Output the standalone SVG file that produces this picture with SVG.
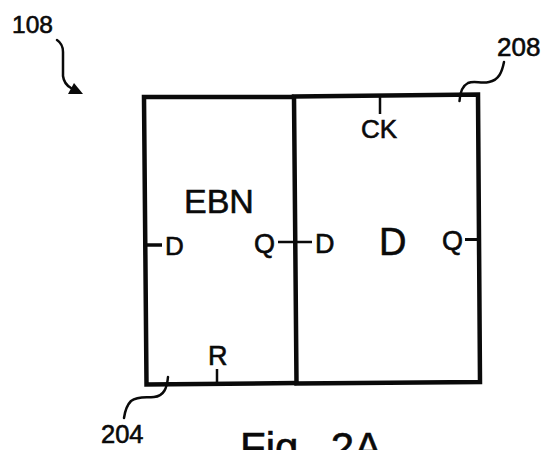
<svg xmlns="http://www.w3.org/2000/svg" width="545" height="450" viewBox="0 0 545 450">
<style>
text{font-family:"Liberation Sans",Arial,sans-serif;fill:#0a0a0a;stroke:#0a0a0a;stroke-width:0.6}
.box{fill:none;stroke:#0a0a0a;stroke-width:4.5;stroke-linejoin:miter}
.tick{fill:none;stroke:#0a0a0a;stroke-width:2.5}
.lead{fill:none;stroke:#0a0a0a;stroke-width:2.5;stroke-linecap:round}
</style>
<rect width="545" height="450" fill="#fff"/>
<g id="node-ebn">
<path class="box" d="M294 97 L144 97 L146.500 384.500 L296.500 383"/>
<text x="184" y="213" font-size="34">EBN</text>
<text x="165" y="255" font-size="26">D</text>
<text x="254" y="253" font-size="27">Q</text>
<text x="208" y="365" font-size="27">R</text>
</g>
<g id="node-d">
<path class="box" d="M294 96.500 L478 94.500 L480 382 L296.500 383.500 Z"/>
<text x="361" y="138" font-size="26">CK</text>
<text x="315" y="253" font-size="27">D</text>
<text x="379" y="255" font-size="38">D</text>
<text x="442" y="250" font-size="27">Q</text>
</g>
<g id="connectors">
<path class="tick" style="stroke-width:3.5" d="M146 245 H162"/>
<path class="tick" d="M278 242 H312"/>
<path class="tick" style="stroke-width:3" d="M465 239.500 H478"/>
<path class="tick" d="M217 369 V383"/>
<path class="tick" d="M380 97 V114"/>
<path class="lead" d="M57 40 Q63 44 63 52 L63 76 Q64 84 71 88"/>
<polygon points="68,94 74,83 83,94" fill="#0a0a0a"/>
<path class="lead" d="M504 62 C502 72 499 80 489 82 C480 84 475 80 468 83 C462 86 460 92 459.500 101"/>
<path class="lead" d="M168 377 C167 388 164 396 154 397 C146 398 138 396 131 401 C127 405 125 411 124 418"/>
</g>
<g id="labels">
<text x="12" y="33" font-size="24.500">108</text>
<text x="497" y="56" font-size="26">208</text>
<text x="101" y="443" font-size="25.500">204</text>
<text x="240" y="462" font-size="42" word-spacing="9">Fig. 2A</text>
</g>
</svg>
